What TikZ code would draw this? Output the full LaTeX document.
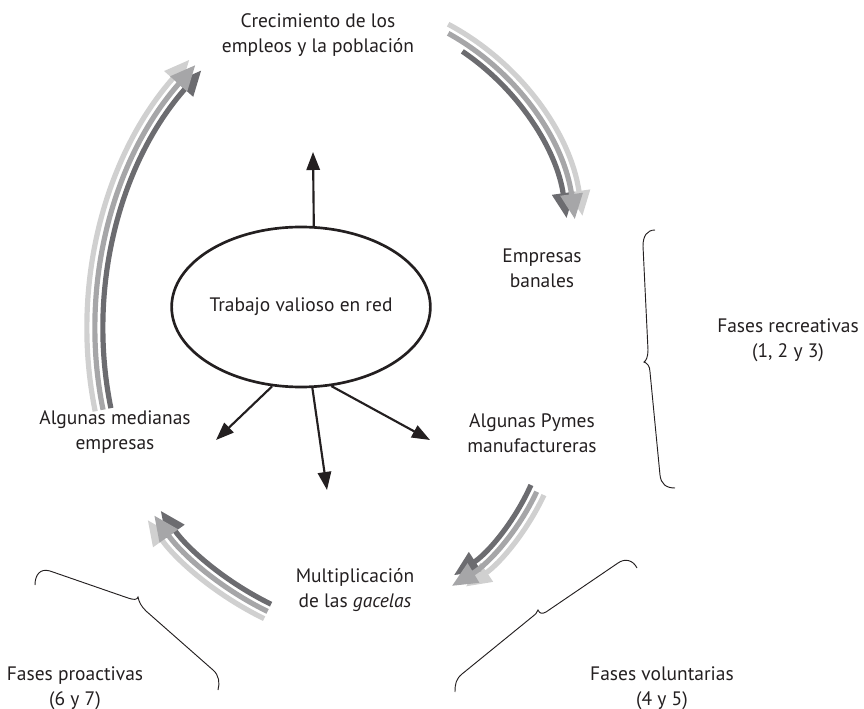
\documentclass[tikz,border=0pt]{standalone}
\usepackage{fontspec}
\setmainfont{PT Sans}
\usetikzlibrary{arrows.meta, shapes.geometric, positioning}
\definecolor{inkgray}{RGB}{35,31,32}
\definecolor{strandlight}{RGB}{208,208,208}
\definecolor{strandmid}{RGB}{166,166,168}
\definecolor{stranddark}{RGB}{108,108,112}

\begin{document}
\begin{tikzpicture}[
    x=0.75pt, y=-0.75pt,
    lbl/.style={align=center, text=inkgray, font=\fontsize{14.6}{18.75}\selectfont, inner sep=0pt},
    ray/.style={-{Triangle[length=13.5pt, width=10pt]}, line width=1.6pt, draw=inkgray},
    strand/.style={line width=3.9pt, -{Triangle[length=19pt, width=16pt]}},
    bracepath/.style={line width=0.7pt, draw=inkgray},
]
\useasboundingbox (0,0) rectangle (864,709);

% Centre
\node[lbl, ellipse, draw=inkgray, line width=2pt, minimum width=192pt,
      minimum height=120pt] (trabajo) at (301,307) {Trabajo valioso en red};

% Cycle labels
\node[lbl] (crecimiento) at (318,35) {Crecimiento de los\\empleos y la población};
\node[lbl] (banales)     at (542,268) {Empresas\\banales};
\node[lbl] (pymes)       at (532,433) {Algunas Pymes\\manufactureras};
\node[lbl] (gacelas)     at (355,590) {Multiplicación\\de las \textit{gacelas}};
\node[lbl] (medianas)    at (115,432) {Algunas medianas\\empresas};

% Phase labels
\node[lbl] (recreativas) at (788,340) {Fases recreativas\\(1, 2 y 3)};
\node[lbl] (voluntarias) at (662,688) {Fases voluntarias\\(4 y 5)};
\node[lbl] (proactivas)  at (75,688)  {Fases proactivas\\(6 y 7)};

% Rays out of the centre
\coordinate (rayUp)    at (313,152);
\coordinate (rayLeft)  at (216,440);
\coordinate (rayDown)  at (327,490);
\coordinate (rayRight) at (430,440);
\draw[ray] (trabajo.81)  -- (rayUp);
\draw[ray] (trabajo.250) -- (rayLeft);
\draw[ray] (trabajo.278) -- (rayDown);
\draw[ray] (trabajo.291) -- (rayRight);

% Triple arrows of the cycle
\coordinate (cLeft)   at (495,330);
\coordinate (cTop)    at (327,252);
\coordinate (cRight)  at (340,400);
\coordinate (cBottom) at (400,340);

% medianas -> crecimiento
\draw[strand, strandlight] ([shift={(168.5:408)}]cLeft) arc[start angle=168.5, end angle=221.5, radius=408];
\draw[strand, stranddark]  ([shift={(168.5:392)}]cLeft) arc[start angle=168.5, end angle=221.5, radius=392];
\draw[strand, strandmid]   ([shift={(168.5:400)}]cLeft) arc[start angle=168.5, end angle=221.5, radius=400];

% crecimiento -> banales
\draw[strand, strandlight] ([shift={(-62:258)}]cTop) arc[start angle=-62, end angle=-8, radius=258];
\draw[strand, stranddark]  ([shift={(-56:242)}]cTop) arc[start angle=-56, end angle=-8, radius=242];
\draw[strand, strandmid]   ([shift={(-61:250)}]cTop) arc[start angle=-61, end angle=-7.5, radius=250];

% pymes -> gacelas
\draw[strand, strandlight] ([shift={(25:225)}]cRight) arc[start angle=25, end angle=56, radius=225];
\draw[strand, stranddark]  ([shift={(24:209)}]cRight) arc[start angle=24, end angle=57, radius=209];
\draw[strand, strandmid]   ([shift={(25:217)}]cRight) arc[start angle=25, end angle=59, radius=217];

% gacelas -> medianas
\draw[strand, strandlight] ([shift={(116:310)}]cBottom) arc[start angle=116, end angle=144.5, radius=310];
\draw[strand, stranddark]  ([shift={(116:294)}]cBottom) arc[start angle=116, end angle=144.5, radius=294];
\draw[strand, strandmid]   ([shift={(116:302)}]cBottom) arc[start angle=116, end angle=144.5, radius=302];

% Braces
\draw[bracepath] (655,230) .. controls (647,230) and (643,236) .. (643,246)
  -- (648,350) .. controls (648,357) and (646,361) .. (644,362)
  .. controls (647,363) and (650,366) .. (650,372)
  -- (660,475) .. controls (661,484) and (666,488) .. (675,488);
\draw[bracepath] (35,585) .. controls (35,575) and (40,568) .. (50,571)
  -- (128,598) .. controls (134,600) and (137,600) .. (138,597)
  .. controls (139,602) and (141,606) .. (146,611)
  -- (213,670) .. controls (219,675) and (220,683) .. (218,690);
\draw[bracepath] (455,692) .. controls (455,684) and (456,679) .. (462,674)
  -- (532,617) .. controls (535,615) and (537,613) .. (538,610)
  .. controls (540,614) and (542,614) .. (546,612)
  -- (618,563) .. controls (625,558) and (633,560) .. (637,568);

\end{tikzpicture}
\end{document}
